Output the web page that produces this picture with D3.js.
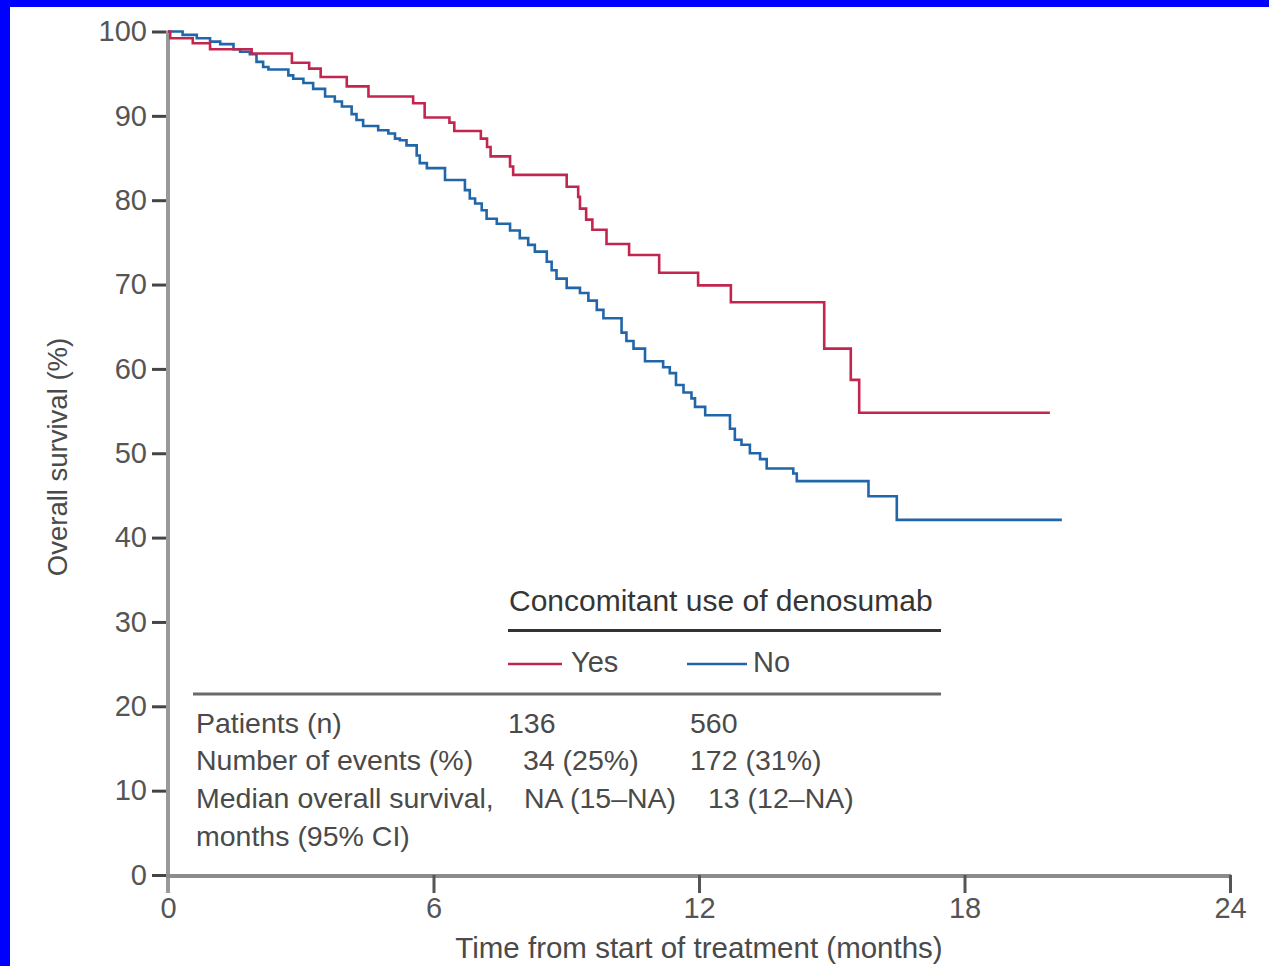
<!DOCTYPE html>
<html>
<head>
<meta charset="utf-8">
<script src="https://cdn.jsdelivr.net/npm/d3@7"></script>
<style>
  html, body { margin: 0; padding: 0; background: #fff; }
  svg { display: block; }
  text { font-family: "Liberation Sans", Arial, sans-serif; }
</style>
</head>
<body>
<svg id="chart" width="1269" height="966"></svg>
<script>
// Kaplan-Meier step points: time (months) at which survival drops, and survival (%) after the drop
const yesTimes = [0, 0.05, 0.56, 0.95, 1.89, 2.80, 3.19, 3.45, 4.04, 4.53, 5.54, 5.80, 6.36, 6.47, 7.07, 7.21, 7.29, 7.73, 7.80, 9.01, 9.27, 9.31, 9.45, 9.59, 9.91, 10.42, 11.10, 11.98, 12.72, 14.83, 15.43, 15.62, 19.93];
const yesSurv  = [100, 99.2, 98.6, 97.9, 97.4, 96.3, 95.6, 94.6, 93.5, 92.3, 91.5, 89.8, 89.2, 88.2, 87.3, 86.3, 85.2, 84.0, 83.0, 81.6, 80.4, 79.0, 77.7, 76.5, 74.8, 73.5, 71.4, 69.9, 67.9, 62.4, 58.7, 54.8, 54.8];

const noTimes = [0, 0.33, 0.65, 0.95, 1.18, 1.48, 1.63, 1.85, 2.00, 2.15, 2.27, 2.72, 2.83, 3.06, 3.28, 3.55, 3.77, 3.93, 4.15, 4.26, 4.41, 4.75, 4.98, 5.13, 5.24, 5.39, 5.62, 5.69, 5.85, 6.26, 6.71, 6.82, 6.94, 7.09, 7.20, 7.43, 7.73, 7.95, 8.14, 8.29, 8.56, 8.67, 8.78, 9.01, 9.31, 9.50, 9.69, 9.84, 10.25, 10.36, 10.52, 10.78, 11.19, 11.34, 11.48, 11.65, 11.83, 11.91, 12.14, 12.70, 12.81, 12.96, 13.15, 13.38, 13.53, 14.13, 14.21, 15.83, 16.47, 20.20];
const noSurv  = [100, 99.6, 99.2, 98.8, 98.5, 97.9, 97.6, 97.3, 96.4, 95.8, 95.5, 94.8, 94.4, 93.9, 93.2, 92.3, 91.7, 91.1, 90.2, 89.5, 88.8, 88.3, 87.9, 87.3, 87.1, 86.5, 85.3, 84.4, 83.8, 82.4, 81.2, 80.2, 79.6, 78.8, 77.8, 77.2, 76.4, 75.5, 74.7, 73.9, 72.7, 71.7, 70.7, 69.6, 69.0, 68.1, 67.0, 66.0, 64.3, 63.3, 62.4, 60.9, 60.2, 59.5, 58.1, 57.2, 56.5, 55.5, 54.5, 52.9, 51.6, 51.0, 50.0, 49.3, 48.2, 47.6, 46.7, 44.9, 42.1, 42.1];

const xTicks = [0, 6, 12, 18, 24];
const yTicks = [0, 10, 20, 30, 40, 50, 60, 70, 80, 90, 100];

const groupNames  = ["Yes", "No"];
const groupColors = ["#c2264f", "#2166a8"];
const legendTitle = "Concomitant use of denosumab";
const rowLabels = ["Patients (n)", "Number of events (%)", "Median overall survival,", "months (95% CI)"];
const yesColumn = ["136", "34 (25%)", "NA (15\u2013NA)", ""];
const noColumn  = ["560", "172 (31%)", "13 (12\u2013NA)", ""];

const svg = d3.select("#chart");

// frame bands
svg.append("rect").attr("x", 0).attr("y", 0).attr("width", 1269).attr("height", 966).attr("fill", "#fff");
svg.append("rect").attr("x", 0).attr("y", 0).attr("width", 1269).attr("height", 7).attr("fill", "#0000ff");
svg.append("rect").attr("x", 0).attr("y", 0).attr("width", 10).attr("height", 966).attr("fill", "#0000ff");

const x = d3.scaleLinear().domain([0, 24]).range([168, 1230]);
const y = d3.scaleLinear().domain([0, 100]).range([875, 31.5]);

// axis lines
svg.append("line").attr("x1", x(0)).attr("x2", x(0)).attr("y1", y(100) - 1).attr("y2", y(0) + 18)
  .attr("stroke", "#999").attr("stroke-width", 4);
svg.append("line").attr("x1", x(0) - 2).attr("x2", x(24) + 1).attr("y1", y(0) + 1).attr("y2", y(0) + 1)
  .attr("stroke", "#8c8c8c").attr("stroke-width", 4);

// y axis ticks and labels
const yAxis = svg.append("g").attr("transform", `translate(${x(0) - 2},0)`)
  .call(d3.axisLeft(y).tickValues(yTicks).tickSize(14).tickPadding(5).tickFormat(d3.format("d")));
yAxis.select(".domain").remove();
yAxis.selectAll(".tick line").attr("stroke", "#444").attr("stroke-width", 3);
yAxis.selectAll(".tick text").attr("fill", "#555").style("font-size", "29px")
  .style("font-family", '"Liberation Sans", Arial, sans-serif');

// x axis ticks and labels
const xAxis = svg.append("g").attr("transform", `translate(0,${y(0)})`)
  .call(d3.axisBottom(x).tickValues(xTicks).tickSize(18).tickPadding(4).tickFormat(d3.format("d")));
xAxis.select(".domain").remove();
xAxis.selectAll(".tick line").attr("stroke", "#555").attr("stroke-width", 3)
  .filter(d => d === 0).remove();
xAxis.selectAll(".tick text").attr("fill", "#555").style("font-size", "29px")
  .style("font-family", '"Liberation Sans", Arial, sans-serif');

// axis titles
svg.append("text")
  .attr("transform", `translate(67,${457}) rotate(-90)`)
  .attr("text-anchor", "middle").attr("fill", "#4a4a4a").style("font-size", "27.5px")
  .text("Overall survival (%)");
svg.append("text")
  .attr("x", (x(0) + x(24)) / 2).attr("y", 958)
  .attr("text-anchor", "middle").attr("fill", "#4a4a4a").style("font-size", "29.5px")
  .text("Time from start of treatment (months)");

// survival curves
const line = d3.line().x(d => x(d[0])).y(d => y(d[1])).curve(d3.curveStepAfter);
const series = [
  { name: "No",  color: groupColors[1], pts: d3.zip(noTimes, noSurv) },
  { name: "Yes", color: groupColors[0], pts: d3.zip(yesTimes, yesSurv) }
];
svg.selectAll("path.km").data(series).join("path")
  .attr("class", "km")
  .attr("d", d => line(d.pts))
  .attr("fill", "none")
  .attr("stroke", d => d.color)
  .attr("stroke-width", 2.6);

// legend
svg.append("text").attr("x", 509).attr("y", 611).attr("fill", "#353535")
  .style("font-size", "30px").text(legendTitle);
svg.append("line").attr("x1", 508).attr("x2", 941).attr("y1", 630.5).attr("y2", 630.5)
  .attr("stroke", "#333").attr("stroke-width", 3);

const legendItems = [
  { name: groupNames[0], color: groupColors[0], x1: 508, x2: 562, tx: 571 },
  { name: groupNames[1], color: groupColors[1], x1: 687, x2: 747, tx: 753 }
];
legendItems.forEach(it => {
  svg.append("line").attr("x1", it.x1).attr("x2", it.x2).attr("y1", 664).attr("y2", 664)
    .attr("stroke", it.color).attr("stroke-width", 2.6);
  svg.append("text").attr("x", it.tx).attr("y", 672).attr("fill", "#4a4a4a")
    .style("font-size", "29px").text(it.name);
});
svg.append("line").attr("x1", 193).attr("x2", 941).attr("y1", 694).attr("y2", 694)
  .attr("stroke", "#6a6a6a").attr("stroke-width", 3);

// summary table
const rowY = [733, 770, 808, 846];
const yesX = [508, 523, 524];
const noX  = [690, 690, 708];
rowLabels.forEach((lab, i) => {
  svg.append("text").attr("x", 196).attr("y", rowY[i]).attr("fill", "#4a4a4a")
    .style("font-size", "28.5px").text(lab);
  if (yesColumn[i]) svg.append("text").attr("x", yesX[i]).attr("y", rowY[i]).attr("fill", "#4a4a4a")
    .style("font-size", "28.5px").text(yesColumn[i]);
  if (noColumn[i]) svg.append("text").attr("x", noX[i]).attr("y", rowY[i]).attr("fill", "#4a4a4a")
    .style("font-size", "28.5px").text(noColumn[i]);
});
</script>
</body>
</html>
